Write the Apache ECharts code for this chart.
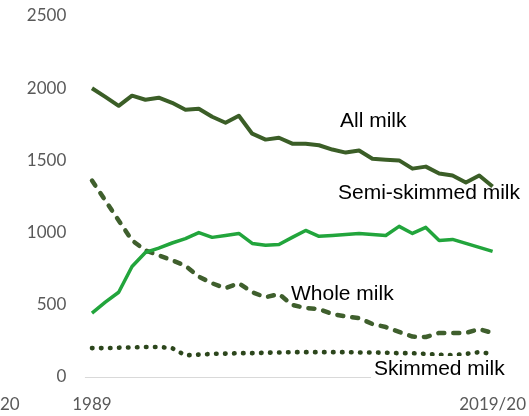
<!DOCTYPE html>
<html>
<head>
<meta charset="utf-8">
<script src="https://cdn.jsdelivr.net/npm/echarts@6/dist/echarts.min.js"></script>
<style>
html,body{margin:0;padding:0;background:#fff;}
#chart{width:529px;height:416px;}
</style>
</head>
<body>
<div id="chart"></div>
<script>
var categories = ['1989','1990','1991','1992','1993','1994','1995','1996','1997','1998',
  '1999','2000','2001','2002','2003','2004','2005','2006','2007','2008',
  '2009','2010','2011','2012','2013','2014','2015','2016','2017','2018','2019/20'];
var allMilk = [2000,1940,1878,1948,1920,1934,1899,1851,1858,1802,1761,1809,1685,1644,1657,1616,1616,1605,1575,1554,1568,1512,1505,1500,1443,1457,1409,1395,1347,1395,1319];
var semiSkimmed = [442,518,587,765,862,893,928,958,1000,967,980,994,925,912,918,967,1015,974,980,987,994,987,980,1043,994,1036,946,953,925,898,870];
var wholeMilk = [1360,1222,1084,946,877,843,808,770,695,649,615,649,587,552,575,499,478,471,436,420,408,367,346,312,280,277,305,305,305,332,305];
var skimmedMilk = [200,200,203,205,208,208,200,150,155,160,162,165,165,168,170,172,172,172,172,172,170,170,168,165,165,160,155,152,160,172,160];
var yTicks = [0,500,1000,1500,2000,2500];
var seriesNames = ['All milk','Semi-skimmed milk','Whole milk','Skimmed milk'];

var chart = echarts.init(document.getElementById('chart'), null, {renderer:'canvas'});
var darkGreen = '#3b5e27';
var brightGreen = '#22a53c';
var axisFont = 'Lato';

chart.setOption({
  animation:false,
  backgroundColor:'#ffffff',
  grid:{left:85.3, right:29, top:16, bottom:39, containLabel:false},
  xAxis:{
    type:'category',
    data:categories,
    boundaryGap:true,
    axisLine:{show:true, lineStyle:{color:'#d9d9d9', width:1}},
    axisTick:{show:false},
    axisLabel:{
      interval:function(i){return i===0 || i===categories.length-1;},
      color:'#595959', fontFamily:axisFont, fontSize:17, margin:19
    },
    splitLine:{show:false}
  },
  yAxis:{
    type:'value',
    min:yTicks[0], max:yTicks[yTicks.length-1], interval:500,
    axisLine:{show:false},
    axisTick:{show:false},
    splitLine:{show:false},
    axisLabel:{color:'#595959', fontFamily:axisFont, fontSize:17, margin:19,
      formatter:function(v){return String(v);}}
  },
  series:[
    {name:seriesNames[0], type:'line', data:allMilk, symbol:'none',
      lineStyle:{color:darkGreen, width:4, join:'round'}, z:4},
    {name:seriesNames[1], type:'line', data:semiSkimmed, symbol:'none',
      lineStyle:{color:brightGreen, width:3.5, join:'round'}, z:3},
    {name:seriesNames[2], type:'line', data:wholeMilk, symbol:'none',
      lineStyle:{color:'#3f5f2d', width:4.5, type:[6,9], cap:'round', join:'round'}, z:2},
    {name:seriesNames[3], type:'line', data:skimmedMilk, symbol:'none',
      lineStyle:{color:'#2c461c', width:4.6, type:[0.5,8.5], cap:'round'}, z:2}
  ],
  graphic:[
    {type:'text', x:340, y:121.3, z:10, style:{text:seriesNames[0], font:'21px "Liberation Sans"', fill:'#000', verticalAlign:'middle', align:'left'}},
    {type:'text', x:338, y:193, z:10, style:{text:seriesNames[1], font:'21px "Liberation Sans"', fill:'#000', verticalAlign:'middle', align:'left'}},
    {type:'text', x:291, y:294, z:10, style:{text:seriesNames[2], font:'21px "Liberation Sans"', fill:'#000', verticalAlign:'middle', align:'left'}},
    {type:'text', x:371, y:369, z:10, style:{text:seriesNames[3], font:'21px "Liberation Sans"', fill:'#000', verticalAlign:'middle', align:'left', backgroundColor:'#ffffff', padding:[2,3,3,3]}},
    {type:'text', x:0, y:405, z:10, style:{text:'20', font:'17px Lato', fill:'#595959', verticalAlign:'middle', align:'left'}}
  ]
});
</script>
</body>
</html>
